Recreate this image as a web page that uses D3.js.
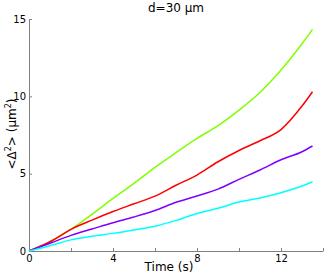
<!DOCTYPE html>
<html>
<head>
<meta charset="utf-8">
<script src="https://cdn.jsdelivr.net/npm/d3@7"></script>
<style>
  body { margin: 0; background: #fff; }
  text { font-family: "DejaVu Sans", sans-serif; }
</style>
</head>
<body>
<div id="canvas"></div>
<script>
var w = 332;
var h = 274;

// time points (s)
var times = [0, 1, 2, 3, 4, 5, 6, 7, 8, 9, 10, 11, 12, 13, 13.5];

// <Δ²> values (μm²) per series
var greenVals  = [0, 0.6, 1.4, 2.37, 3.4, 4.37, 5.41, 6.36, 7.28, 8.1, 9.11, 10.25, 11.7, 13.4, 14.33];
var redVals    = [0, 0.6, 1.4, 2.0, 2.55, 3.05, 3.55, 4.25, 4.91, 5.77, 6.5, 7.13, 7.85, 9.37, 10.3];
var purpleVals = [0, 0.5, 1.01, 1.42, 1.83, 2.2, 2.62, 3.15, 3.56, 4.0, 4.63, 5.24, 5.9, 6.42, 6.79];
var cyanVals   = [0, 0.34, 0.72, 0.95, 1.14, 1.36, 1.6, 1.98, 2.43, 2.76, 3.17, 3.43, 3.77, 4.2, 4.48];

var seriesNames  = ["green", "red", "purple", "cyan"];
var seriesColors = ["#80ff00", "#ff0000", "#8000ff", "#00ffff"];

var xTicks = [0, 2, 4, 6, 8, 10, 12, 14];
var xLabels = ["0", "", "4", "", "8", "", "12", ""];
var yTicks = [0, 5, 10, 15];

var series = [greenVals, redVals, purpleVals, cyanVals].map(function(vals, i) {
	return {name: seriesNames[i], values: vals.map(function(v, j) { return [times[j], v]; })};
});

var svg = d3.select("#canvas").append("svg")
			.attr("width", w)
			.attr("height", h);

var xScale = d3.scaleLinear().domain([0, 14]).range([29, 323]);
var yScale = d3.scaleLinear().domain([0, 15]).range([251, 19]);

var colorScale = d3.scaleOrdinal().domain(seriesNames).range(seriesColors);

// x axis, ticks point inward
svg.append("g")
	.attr("transform", "translate(0," + yScale(0) + ")")
	.call(d3.axisBottom(xScale)
		.tickValues(xTicks)
		.tickFormat(function(d, i) { return xLabels[i]; })
		.tickSize(-3)
		.tickSizeOuter(0)
		.tickPadding(4));

svg.append("g")
	.attr("transform", "translate(" + xScale(0) + ",0)")
	.call(d3.axisLeft(yScale)
		.tickValues(yTicks)
		.tickSize(-3)
		.tickSizeOuter(0)
		.tickPadding(3));

svg.selectAll(".domain, .tick line").attr("stroke", "#808080");
svg.selectAll(".tick text").attr("fill", "#000").style("font-size", "10px");

var line = d3.line()
	.x(function(d) { return xScale(d[0]); })
	.y(function(d) { return yScale(d[1]); })
	.curve(d3.curveMonotoneX);

svg.selectAll(".series")
	.data(series)
	.enter().append("path")
	.attr("class", "series")
	.attr("fill", "none")
	.attr("stroke", function(d) { return colorScale(d.name); })
	.attr("stroke-width", 1.5)
	.attr("d", function(d) { return line(d.values); });

// title
svg.append("text")
	.attr("x", 176)
	.attr("y", 12)
	.attr("text-anchor", "middle")
	.style("font-size", "12px")
	.text("d=30 \u03bcm");

// x label
svg.append("text")
	.attr("x", 169)
	.attr("y", 271)
	.attr("text-anchor", "middle")
	.style("font-size", "12px")
	.text("Time (s)");

// y label with superscripts
var yl = svg.append("text")
	.attr("transform", "translate(16,134) rotate(-90)")
	.attr("text-anchor", "middle")
	.style("font-size", "12px");
yl.append("tspan").text("<\u0394");
yl.append("tspan").attr("dy", -5).style("font-size", "8px").text("2");
yl.append("tspan").attr("dy", 5).text("> (\u03bcm");
yl.append("tspan").attr("dy", -5).style("font-size", "8px").text("2");
yl.append("tspan").attr("dy", 5).text(")");
</script>
</body>
</html>
